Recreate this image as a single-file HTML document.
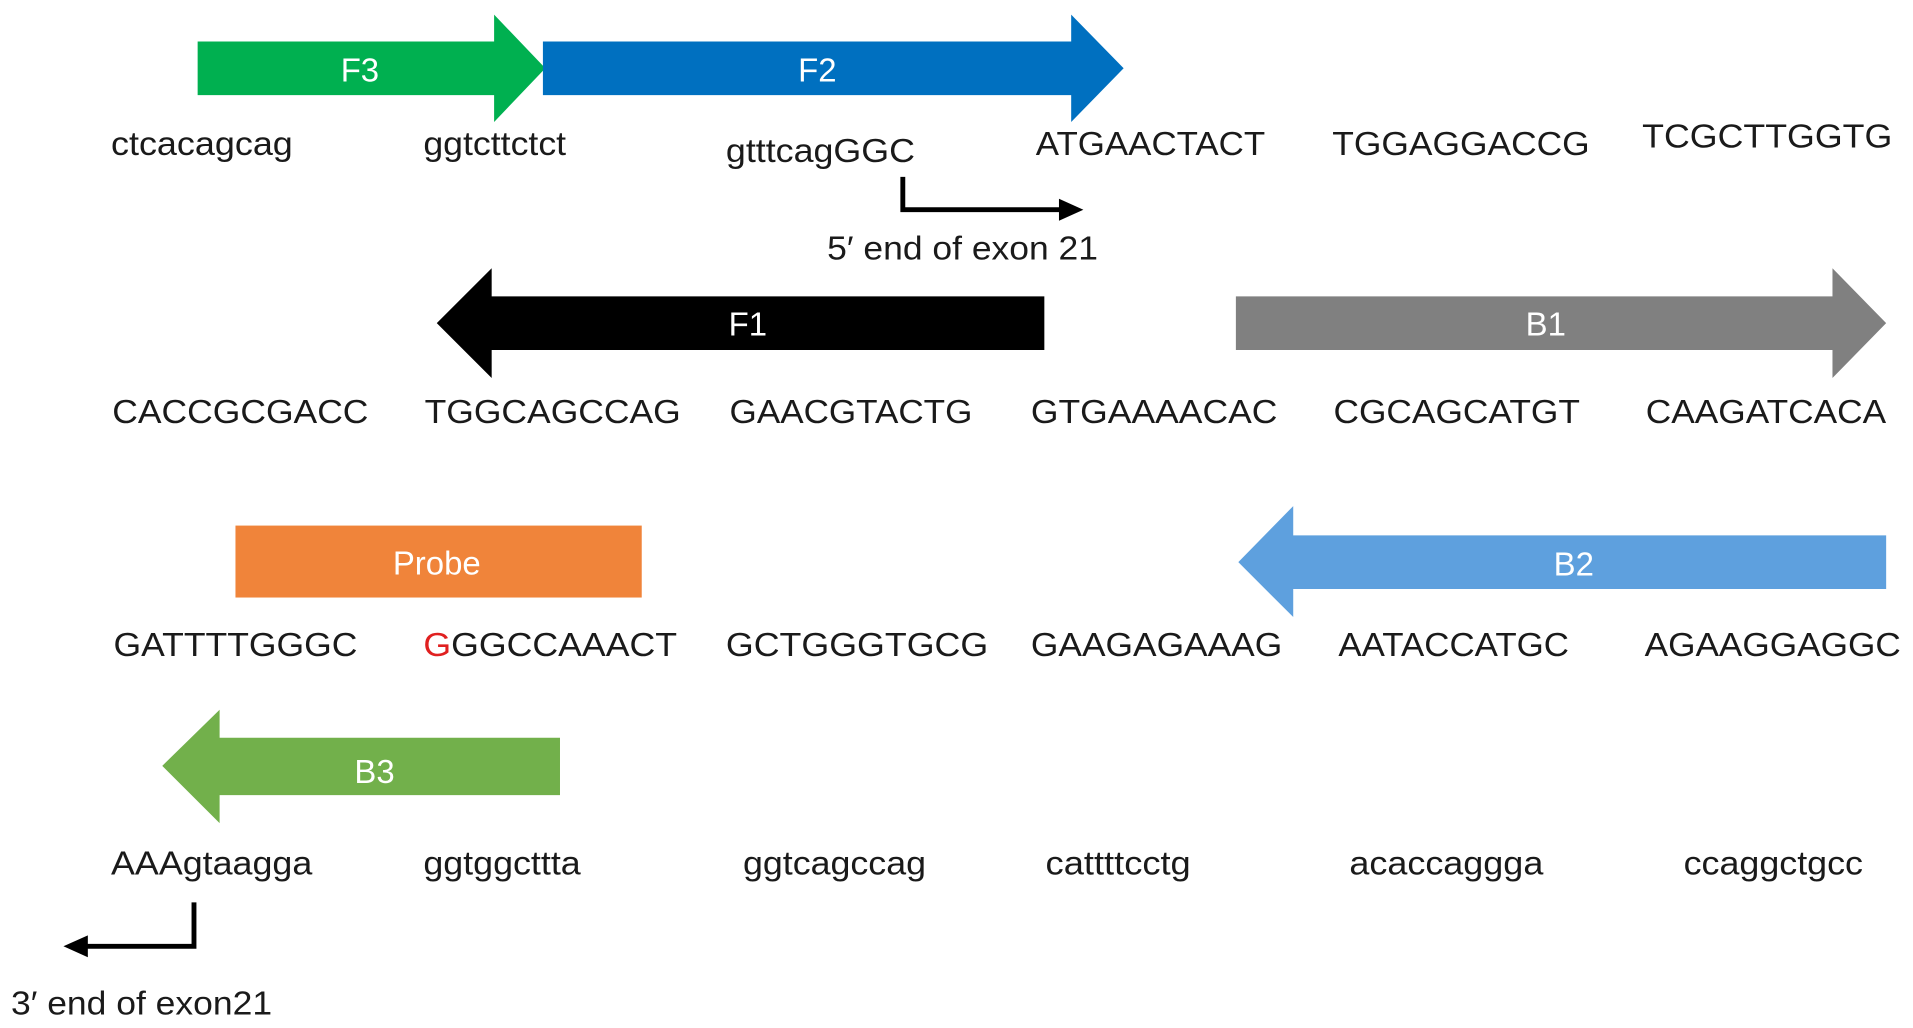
<!DOCTYPE html>
<html><head><style>html,body{margin:0;padding:0;background:#fff;overflow:hidden}svg{display:block}</style></head>
<body>
<svg width="1913" height="1028" viewBox="0 0 1568 843" preserveAspectRatio="none" xmlns="http://www.w3.org/2000/svg" font-family="Liberation Sans, Arial, sans-serif">
<polygon points="162,34 405,34 405,12 447,56 405,100 405,78 162,78" fill="#00b050"/>
<polygon points="445,34 878,34 878,12 921,56 878,100 878,78 445,78" fill="#0070c0"/>
<polygon points="856,243 403,243 403,220 358,265 403,310 403,287 856,287" fill="#000"/>
<polygon points="1013,243 1502,243 1502,220 1546,265 1502,310 1502,287 1013,287" fill="#808080"/>
<rect x="193" y="431" width="333" height="59" fill="#f0843a"/>
<polygon points="1546,439 1060,439 1060,415 1015,461 1060,506 1060,483 1546,483" fill="#5ea0de"/>
<polygon points="459,605 180,605 180,582 133,628 180,675 180,652 459,652" fill="#72b04b"/>
<g fill="#fff" font-size="27" text-anchor="middle">
<text x="295" y="67">F3</text><text x="670" y="67">F2</text><text x="613" y="275">F1</text>
<text x="1267" y="275">B1</text><text x="358" y="471">Probe</text><text x="1290" y="472">B2</text><text x="307" y="642">B3</text>
</g>
<g stroke="#000" stroke-width="4" fill="none"><polyline points="740,145 740,172 872,172"/><polyline points="159,740 159,776 68,776"/></g>
<polygon points="888,172 868,163 868,181" fill="#000"/>
<polygon points="52,776 72,767 72,785" fill="#000"/>
<g fill="#1a1a1a" font-size="27" lengthAdjust="spacingAndGlyphs">
<text x="91" y="127" textLength="149" lengthAdjust="spacingAndGlyphs">ctcacagcag</text>
<text x="347" y="127" textLength="117" lengthAdjust="spacingAndGlyphs">ggtcttctct</text>
<text x="595" y="133" textLength="155" lengthAdjust="spacingAndGlyphs">gtttcagGGC</text>
<text x="849" y="127" textLength="188" lengthAdjust="spacingAndGlyphs">ATGAACTACT</text>
<text x="1092" y="127" textLength="211" lengthAdjust="spacingAndGlyphs">TGGAGGACCG</text>
<text x="1346" y="121" textLength="205" lengthAdjust="spacingAndGlyphs">TCGCTTGGTG</text>
<text x="678" y="213" textLength="222" lengthAdjust="spacingAndGlyphs">5′ end of exon 21</text>
<text x="92" y="347" textLength="210" lengthAdjust="spacingAndGlyphs">CACCGCGACC</text>
<text x="348" y="347" textLength="210" lengthAdjust="spacingAndGlyphs">TGGCAGCCAG</text>
<text x="598" y="347" textLength="199" lengthAdjust="spacingAndGlyphs">GAACGTACTG</text>
<text x="845" y="347" textLength="202" lengthAdjust="spacingAndGlyphs">GTGAAAACAC</text>
<text x="1093" y="347" textLength="202" lengthAdjust="spacingAndGlyphs">CGCAGCATGT</text>
<text x="1349" y="347" textLength="197" lengthAdjust="spacingAndGlyphs">CAAGATCACA</text>
<text x="93" y="538" textLength="200" lengthAdjust="spacingAndGlyphs">GATTTTGGGC</text>
<text x="347" y="538" textLength="208" lengthAdjust="spacingAndGlyphs"><tspan fill="#e02020">G</tspan>GGCCAAACT</text>
<text x="595" y="538" textLength="215" lengthAdjust="spacingAndGlyphs">GCTGGGTGCG</text>
<text x="845" y="538" textLength="206" lengthAdjust="spacingAndGlyphs">GAAGAGAAAG</text>
<text x="1097" y="538" textLength="189" lengthAdjust="spacingAndGlyphs">AATACCATGC</text>
<text x="1348" y="538" textLength="210" lengthAdjust="spacingAndGlyphs">AGAAGGAGGC</text>
<text x="91" y="717" textLength="165" lengthAdjust="spacingAndGlyphs">AAAgtaagga</text>
<text x="347" y="717" textLength="129" lengthAdjust="spacingAndGlyphs">ggtggcttta</text>
<text x="609" y="717" textLength="150" lengthAdjust="spacingAndGlyphs">ggtcagccag</text>
<text x="857" y="717" textLength="119" lengthAdjust="spacingAndGlyphs">cattttcctg</text>
<text x="1106" y="717" textLength="159" lengthAdjust="spacingAndGlyphs">acaccaggga</text>
<text x="1380" y="717" textLength="147" lengthAdjust="spacingAndGlyphs">ccaggctgcc</text>
<text x="9" y="832" textLength="214" lengthAdjust="spacingAndGlyphs">3′ end of exon21</text>
</g>
</svg>
</body></html>
